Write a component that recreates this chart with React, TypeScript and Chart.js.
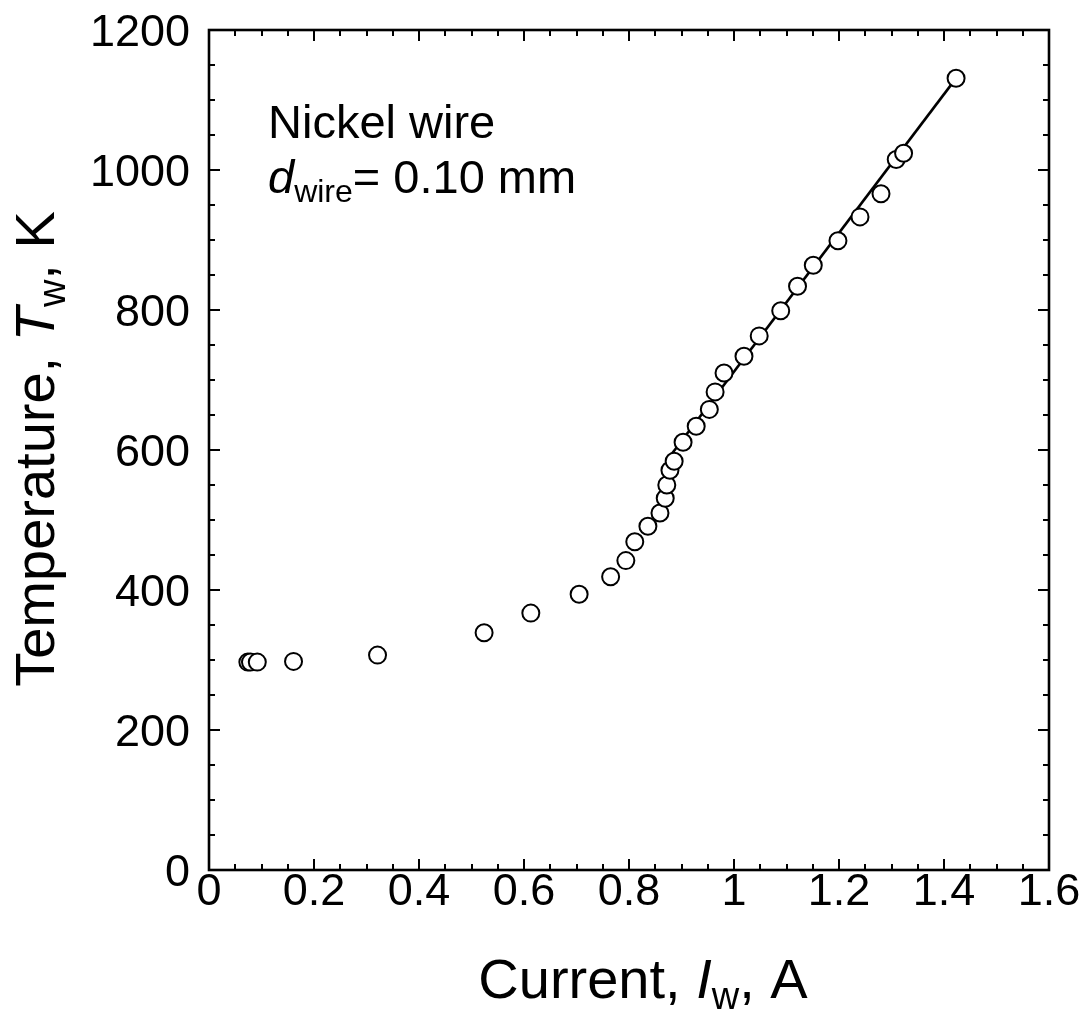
import React, { useEffect, useRef } from "react";
import { Chart, registerables } from "chart.js";

Chart.register(...registerables);

// ---- data ----
const currentA = [
  0.074, 0.079, 0.092, 0.161, 0.321, 0.524, 0.613, 0.705, 0.765, 0.794,
  0.811, 0.836, 0.859, 0.869, 0.872, 0.878, 0.886, 0.903, 0.928, 0.953,
  0.964, 0.981, 1.019, 1.048, 1.089, 1.121, 1.151, 1.198, 1.240, 1.280,
  1.309, 1.323, 1.423,
];
const temperatureK = [
  297, 297, 297, 298, 307, 339, 367, 394, 419, 442,
  469, 491, 510, 531, 550, 571, 584, 611, 634, 658,
  683, 710, 734, 763, 799, 834, 864, 899, 933, 966,
  1015, 1024, 1131,
];
const fitCurrent = [0.882, 1.425];
const fitTemperature = [595, 1133];

const xMin = 0, xMax = 1.6, xStep = 0.2, xMinorStep = 0.05;
const yMin = 0, yMax = 1200, yStep = 200, yMinorStep = 50;

const FAMILY = '"Liberation Sans", Arial, Helvetica, sans-serif';
const TICK_FONT = 45;
const TITLE_FONT = 56;
const NOTE_FONT = 47;

type Part = { text: string; italic?: boolean; sub?: boolean };

function drawRich(ctx: CanvasRenderingContext2D, parts: Part[], x: number, y: number, align: "left" | "center", size: number) {
  const fontFor = (p: Part) => `${p.italic ? "italic " : ""}${p.sub ? Math.round(size * 0.68) : size}px ${FAMILY}`;
  const widths = parts.map((p) => { ctx.font = fontFor(p); return ctx.measureText(p.text).width; });
  const total = widths.reduce((a, b) => a + b, 0);
  let cx = align === "center" ? x - total / 2 : x;
  ctx.textAlign = "left";
  ctx.textBaseline = "alphabetic";
  parts.forEach((p, i) => {
    ctx.font = fontFor(p);
    ctx.fillText(p.text, cx, y + (p.sub ? size * 0.2 : 0));
    cx += widths[i];
  });
}

const fmtX = (v: number) => String(Number(v.toFixed(1)));

const framePlugin = {
  id: "frame",
  afterDraw(chart: any) {
    const ctx: CanvasRenderingContext2D = chart.ctx;
    const { left, right, top, bottom } = chart.chartArea;
    const xs = chart.scales.x;
    const ys = chart.scales.y;
    ctx.save();
    ctx.strokeStyle = "#000";
    ctx.fillStyle = "#000";
    // ticks
    ctx.lineWidth = 2;
    const major = 11, minor = 6;
    const nx = Math.round((xMax - xMin) / xMinorStep);
    for (let i = 0; i <= nx; i++) {
      const v = xMin + i * xMinorStep;
      const px = Math.round(xs.getPixelForValue(v));
      const len = i % Math.round(xStep / xMinorStep) === 0 ? major : minor;
      ctx.beginPath();
      ctx.moveTo(px, bottom); ctx.lineTo(px, bottom - len);
      ctx.moveTo(px, top); ctx.lineTo(px, top + len);
      ctx.stroke();
    }
    const ny = Math.round((yMax - yMin) / yMinorStep);
    for (let i = 0; i <= ny; i++) {
      const v = yMin + i * yMinorStep;
      const py = Math.round(ys.getPixelForValue(v));
      const len = i % Math.round(yStep / yMinorStep) === 0 ? major : minor;
      ctx.beginPath();
      ctx.moveTo(left, py); ctx.lineTo(left + len, py);
      ctx.moveTo(right, py); ctx.lineTo(right - len, py);
      ctx.stroke();
    }
    // frame
    ctx.lineWidth = 2.6;
    ctx.strokeRect(left, top, right - left, bottom - top);

    // tick labels
    ctx.font = `${TICK_FONT}px ${FAMILY}`;
    ctx.textBaseline = "alphabetic";
    ctx.textAlign = "center";
    xs.ticks.forEach((t: any) => {
      ctx.fillText(fmtX(t.value), xs.getPixelForValue(t.value), bottom + 35);
    });
    ctx.textAlign = "right";
    ys.ticks.forEach((t: any) => {
      ctx.fillText(String(t.value), left - 19, ys.getPixelForValue(t.value) + 16);
    });

    // axis titles
    drawRich(ctx, [
      { text: "Current, " },
      { text: "I", italic: true },
      { text: "w", sub: true },
      { text: ", A" },
    ], (left + right) / 2 + 14, bottom + 128, "center", TITLE_FONT);

    ctx.save();
    ctx.translate(46, (top + bottom) / 2 - 1);
    ctx.rotate(-Math.PI / 2);
    drawRich(ctx, [
      { text: "Temperature, " },
      { text: "T", italic: true },
      { text: "w", sub: true },
      { text: ", K" },
    ], 0, 0, "center", TITLE_FONT);
    ctx.restore();

    // annotation
    drawRich(ctx, [{ text: "Nickel wire" }], left + 59, top + 108, "left", NOTE_FONT);
    drawRich(ctx, [
      { text: "d", italic: true },
      { text: "wire", sub: true },
      { text: "= 0.10 mm" },
    ], left + 59, top + 163, "left", NOTE_FONT);
    ctx.restore();
  },
};

export default function App() {
  const ref = useRef<HTMLCanvasElement | null>(null);
  useEffect(() => {
    if (!ref.current) return;
    const points = currentA.map((x, i) => ({ x, y: temperatureK[i] }));
    const fit = fitCurrent.map((x, i) => ({ x, y: fitTemperature[i] }));
    const chart = new Chart(ref.current, {
      type: "scatter",
      data: {
        datasets: [
          {
            label: "fit",
            data: fit,
            showLine: true,
            borderColor: "#000",
            borderWidth: 2.6,
            pointRadius: 0,
            order: 2,
          },
          {
            label: "data",
            data: points,
            pointStyle: "circle",
            pointRadius: 8.5,
            pointBorderWidth: 2,
            borderColor: "#000",
            backgroundColor: "#fff",
            pointBackgroundColor: "#fff",
            pointBorderColor: "#000",
            order: 1,
          },
        ],
      },
      options: {
        responsive: false,
        animation: false,
        devicePixelRatio: 1,
        layout: { padding: { left: 0, right: 35, top: 22, bottom: 0 } },
        plugins: { legend: { display: false }, tooltip: { enabled: false } },
        scales: {
          x: {
            type: "linear",
            min: xMin,
            max: xMax,
            ticks: { stepSize: xStep, display: false },
            grid: { display: false },
            border: { display: false },
            afterFit: (s: any) => { s.height = 143; },
          },
          y: {
            type: "linear",
            min: yMin,
            max: yMax,
            ticks: { stepSize: yStep, display: false },
            grid: { display: false },
            border: { display: false },
            afterFit: (s: any) => { s.width = 201; },
          },
        },
      },
      plugins: [framePlugin],
    });
    return () => chart.destroy();
  }, []);
  return (
    <div style={{ width: 1076, height: 1005 }}>
      <canvas ref={ref} width={1076} height={1005} style={{ display: "block" }} />
    </div>
  );
}
